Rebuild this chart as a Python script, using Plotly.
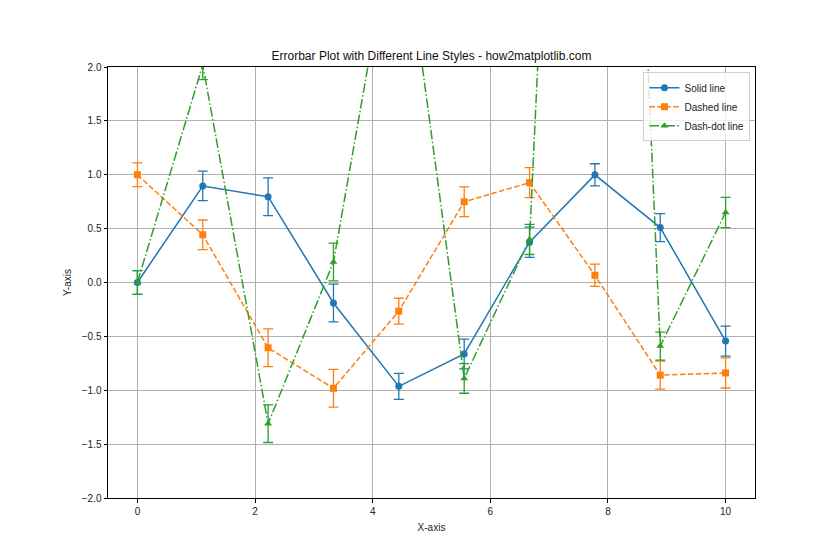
import plotly.graph_objects as go

x_vals = [0.0, 1.111, 2.222, 3.333, 4.444, 5.556, 6.667, 7.778, 8.889, 10.0]
solid_vals = [0.0, 0.896, 0.796, -0.190, -0.964, -0.663, 0.374, 0.999, 0.510, -0.544]
dashed_vals = [1.0, 0.443, -0.606, -0.982, -0.266, 0.749, 0.927, 0.067, -0.860, -0.839]
dashdot_vals = [0.0, 2.02, -1.31, 0.19, 3.63, -0.89, 0.40, 13.3, -0.59, 0.65]
err_vals = [0.11, 0.137, 0.175, 0.175, 0.12, 0.138, 0.14, 0.103, 0.13, 0.14]

series = [
    ("Solid line", solid_vals, "#1f77b4", "solid", "circle"),
    ("Dashed line", dashed_vals, "#ff7f0e", "5.5px,2.4px", "square"),
    ("Dash-dot line", dashdot_vals, "#2ca02c", "9.6px,2.4px,1.5px,2.4px", "triangle-up"),
]

y_ticks = [-2.0, -1.5, -1.0, -0.5, 0.0, 0.5, 1.0, 1.5, 2.0]
x_ticks = [0, 2, 4, 6, 8, 10]

fig = go.Figure()
for name, vals, color, dash, sym in series:
    fig.add_trace(go.Scatter(
        x=x_vals, y=vals, name=name, mode="lines+markers",
        line=dict(color=color, width=1.5, dash=dash),
        marker=dict(color=color, size=7, symbol=sym),
        error_y=dict(type="data", array=err_vals, visible=True,
                     color=color, thickness=1.3, width=5),
    ))

font_family = "Liberation Sans, Arial, sans-serif"
fig.update_layout(
    width=840, height=560,
    paper_bgcolor="white", plot_bgcolor="white",
    margin=dict(l=108, r=85, t=67, b=62),
    font=dict(family=font_family, size=10, color="#222"),
    title=dict(text="Errorbar Plot with Different Line Styles - how2matplotlib.com",
               x=0.5, xanchor="center", y=1 - 56 / 560, yanchor="middle",
               xref="paper", font=dict(size=12, color="#111")),
    showlegend=True,
    legend=dict(x=0.993, y=0.988, xanchor="right", yanchor="top",
                bgcolor="rgba(255,255,255,0.8)", bordercolor="#d0d0d0",
                borderwidth=1, font=dict(size=10),
                itemwidth=30, tracegroupgap=0),
)
fig.update_xaxes(
    range=[-0.5, 10.5], tickvals=x_ticks, ticktext=[str(t) for t in x_ticks],
    showgrid=True, gridcolor="#b0b0b0", gridwidth=0.8,
    showline=True, linecolor="black", linewidth=1, mirror=True,
    ticks="outside", ticklen=3.5, tickcolor="black", zeroline=False,
    title=dict(text="X-axis", font=dict(size=10), standoff=8),
)
fig.update_yaxes(
    range=[-2, 2], tickvals=y_ticks, tickformat=".1f",
    showgrid=True, gridcolor="#b0b0b0", gridwidth=0.8,
    showline=True, linecolor="black", linewidth=1, mirror=True,
    ticks="outside", ticklen=3.5, tickcolor="black", zeroline=False,
    title=dict(text="Y-axis", font=dict(size=10), standoff=8),
)

fig.write_html("out.html")
